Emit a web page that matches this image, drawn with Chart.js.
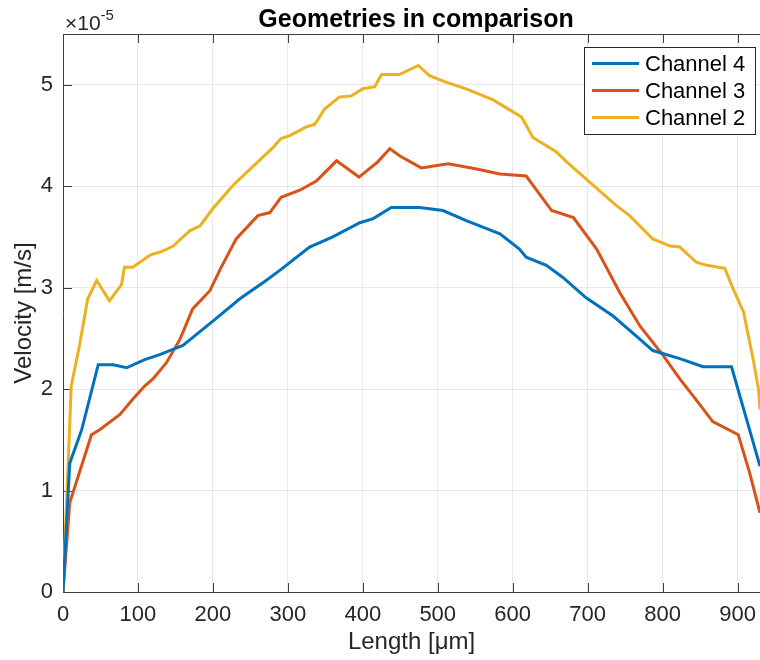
<!DOCTYPE html>
<html>
<head>
<meta charset="utf-8">
<title>Geometries in comparison</title>
<script src="https://cdn.jsdelivr.net/npm/chart.js@4.4.1/dist/chart.umd.min.js"></script>
<style>
    html, body { margin: 0; padding: 0; background: #fff; overflow: hidden; }
    #wrap { width: 760px; height: 660px; }
</style>
</head>
<body>
<div id="wrap"><canvas id="velocityChart" width="760" height="660"></canvas></div>
<script>
// Axis ticks (velocity is given in units of 1e-5 m/s)
const lengthTicks = [0, 100, 200, 300, 400, 500, 600, 700, 800, 900];
const velocityTicks = [0, 1, 2, 3, 4, 5];
const VELOCITY_EXPONENT = '-5';

// Channel 4
const channel4Length = [0, 9, 25, 47, 67, 85, 109, 129, 160, 200, 236, 271, 291, 329, 360, 396, 414, 438, 476, 507,
    538, 583, 609, 618, 645, 667, 698, 734, 770, 787, 823, 854, 892, 930];
const channel4Velocity = [0, 1.27, 1.60, 2.24, 2.24, 2.21, 2.29, 2.34, 2.43, 2.67, 2.89, 3.07, 3.18, 3.40, 3.50, 3.64, 3.68, 3.79, 3.79, 3.76,
    3.66, 3.53, 3.38, 3.30, 3.22, 3.10, 2.90, 2.72, 2.49, 2.38, 2.30, 2.22, 2.22, 1.24];

// Channel 3
const channel3Length = [0, 9, 38, 49, 76, 93, 109, 120, 138, 156, 173, 196, 211, 231, 260, 276, 291, 316, 338, 365,
    395, 420, 436, 449, 478, 514, 552, 583, 618, 652, 681, 712, 743, 770, 801, 823, 841, 867, 901, 916, 930];
const channel3Velocity = [0, 0.88, 1.55, 1.60, 1.75, 1.90, 2.03, 2.10, 2.26, 2.49, 2.79, 2.97, 3.20, 3.48, 3.71, 3.74, 3.89, 3.96, 4.05, 4.25,
    4.09, 4.24, 4.37, 4.30, 4.18, 4.22, 4.17, 4.12, 4.10, 3.76, 3.69, 3.38, 2.95, 2.62, 2.33, 2.10, 1.93, 1.68, 1.55, 1.18, 0.78];

// Channel 2
const channel2Length = [0, 11, 22, 33, 45, 62, 78, 82, 93, 116, 133, 147, 169, 183, 200, 227, 280, 291, 303, 316,
    323, 336, 349, 369, 385, 400, 416, 425, 449, 474, 489, 509, 538, 574, 612, 627, 658, 672, 738, 756,
    787, 810, 823, 845, 859, 883, 894, 908, 921, 928, 930];
const channel2Velocity = [0, 2.03, 2.43, 2.89, 3.07, 2.87, 3.03, 3.20, 3.20, 3.32, 3.36, 3.41, 3.56, 3.61, 3.78, 4.01, 4.38, 4.47, 4.50, 4.55,
    4.58, 4.61, 4.76, 4.88, 4.89, 4.96, 4.98, 5.10, 5.10, 5.19, 5.09, 5.03, 4.96, 4.85, 4.68, 4.48, 4.34, 4.24, 3.81, 3.71,
    3.48, 3.41, 3.40, 3.25, 3.22, 3.19, 2.99, 2.76, 2.29, 2.00, 1.80];

const FONT = '"Liberation Sans", Arial, Helvetica, sans-serif';
const TEXT_COLOR = '#262626';
const AXIS_COLOR = '#404040';
const GRID_COLOR = '#e8e8e8';
const TICK_LEN = 9;

function toPoints(xs, ys) {
    return xs.map((x, i) => ({ x: x, y: ys[i] }));
}

// Box top edge, inward tick marks, title, exponent and legend
const axesDecor = {
    id: 'axesDecor',
    beforeDatasetsDraw(chart) {
        const { ctx, chartArea: area, scales: { x, y } } = chart;
        ctx.save();
        ctx.strokeStyle = AXIS_COLOR;
        ctx.lineWidth = 1;
        ctx.beginPath();
        ctx.moveTo(area.left, area.top + 0.5);
        ctx.lineTo(area.right, area.top + 0.5);
        lengthTicks.forEach(v => {
            const px = Math.round(x.getPixelForValue(v)) + 0.5;
            ctx.moveTo(px, area.bottom);
            ctx.lineTo(px, area.bottom - TICK_LEN);
            ctx.moveTo(px, area.top);
            ctx.lineTo(px, area.top + TICK_LEN);
        });
        velocityTicks.forEach(v => {
            const py = Math.round(y.getPixelForValue(v)) + 0.5;
            ctx.moveTo(area.left, py);
            ctx.lineTo(area.left + TICK_LEN, py);
        });
        ctx.stroke();
        ctx.restore();
    },
    afterDraw(chart) {
        const { ctx, chartArea: area } = chart;
        ctx.save();

        // title
        ctx.fillStyle = '#000';
        ctx.font = 'bold 25px ' + FONT;
        ctx.textAlign = 'center';
        ctx.textBaseline = 'alphabetic';
        ctx.fillText('Geometries in comparison', 416, 27);

        // ×10^-5 multiplier
        ctx.fillStyle = TEXT_COLOR;
        ctx.textAlign = 'left';
        ctx.font = '21px ' + FONT;
        ctx.fillText('\u00d710', area.left + 2, 30);
        const w = ctx.measureText('\u00d710').width;
        ctx.font = '15px ' + FONT;
        ctx.fillText(VELOCITY_EXPONENT, area.left + 2 + w, 20);

        // legend
        const box = { left: 584.5, top: 47.5, width: 171, height: 87 };
        ctx.fillStyle = '#fff';
        ctx.fillRect(box.left, box.top, box.width, box.height);
        ctx.strokeStyle = TEXT_COLOR;
        ctx.lineWidth = 1;
        ctx.strokeRect(box.left, box.top, box.width, box.height);
        ctx.font = '22px ' + FONT;
        ctx.textBaseline = 'middle';
        chart.data.datasets.forEach((ds, i) => {
            const rowY = 63.5 + i * 27;
            ctx.strokeStyle = ds.borderColor;
            ctx.lineWidth = 3;
            ctx.beginPath();
            ctx.moveTo(592, rowY);
            ctx.lineTo(639, rowY);
            ctx.stroke();
            ctx.fillStyle = '#000';
            ctx.fillText(ds.label, 645, rowY + 1);
        });
        ctx.restore();
    }
};

let velocityChart;

function initChart() {
    const ctx = document.getElementById('velocityChart').getContext('2d');
    velocityChart = new Chart(ctx, {
        type: 'line',
        data: {
            datasets: [
                { label: 'Channel 4', data: toPoints(channel4Length, channel4Velocity), borderColor: '#0072BD' },
                { label: 'Channel 3', data: toPoints(channel3Length, channel3Velocity), borderColor: '#D95319' },
                { label: 'Channel 2', data: toPoints(channel2Length, channel2Velocity), borderColor: '#EDB120' }
            ]
        },
        options: {
            responsive: false,
            animation: false,
            layout: { padding: { top: 34, left: 0, right: 0, bottom: 0 } },
            elements: {
                line: { borderWidth: 3, tension: 0, fill: false },
                point: { radius: 0, hoverRadius: 0 }
            },
            plugins: {
                legend: { display: false },
                title: { display: false },
                tooltip: { enabled: false }
            },
            scales: {
                x: {
                    type: 'linear',
                    min: 0,
                    max: 930,
                    afterBuildTicks: scale => { scale.ticks = lengthTicks.map(v => ({ value: v })); },
                    afterFit: scale => {
                        scale.height = 68;
                        // the plot box runs to the right edge of the canvas
                        scale.paddingLeft = 0;
                        scale.paddingRight = 0;
                    },
                    grid: { color: GRID_COLOR, drawTicks: false },
                    border: { display: true, color: AXIS_COLOR, width: 1 },
                    ticks: {
                        color: TEXT_COLOR,
                        font: { family: FONT, size: 22 },
                        padding: 10,
                        maxRotation: 0,
                        callback: v => String(v)
                    },
                    title: {
                        display: true,
                        text: 'Length [\u03bcm]',
                        color: TEXT_COLOR,
                        font: { family: FONT, size: 24 },
                        padding: { top: 0, bottom: 3 }
                    }
                },
                y: {
                    min: 0,
                    max: 5.5,
                    afterBuildTicks: scale => { scale.ticks = velocityTicks.map(v => ({ value: v })); },
                    afterFit: scale => {
                        scale.width = 63;
                        scale.paddingTop = 0;
                        scale.paddingBottom = 0;
                    },
                    grid: { color: GRID_COLOR, drawTicks: false },
                    border: { display: true, color: AXIS_COLOR, width: 1 },
                    ticks: {
                        color: TEXT_COLOR,
                        font: { family: FONT, size: 22 },
                        padding: 10,
                        callback: v => String(v)
                    },
                    title: {
                        display: true,
                        text: 'Velocity [m/s]',
                        color: TEXT_COLOR,
                        font: { family: FONT, size: 24 },
                        padding: { top: 10, bottom: 0 }
                    }
                }
            }
        },
        plugins: [axesDecor]
    });
}

document.addEventListener('DOMContentLoaded', () => {
    initChart();
});
</script>
</body>
</html>
